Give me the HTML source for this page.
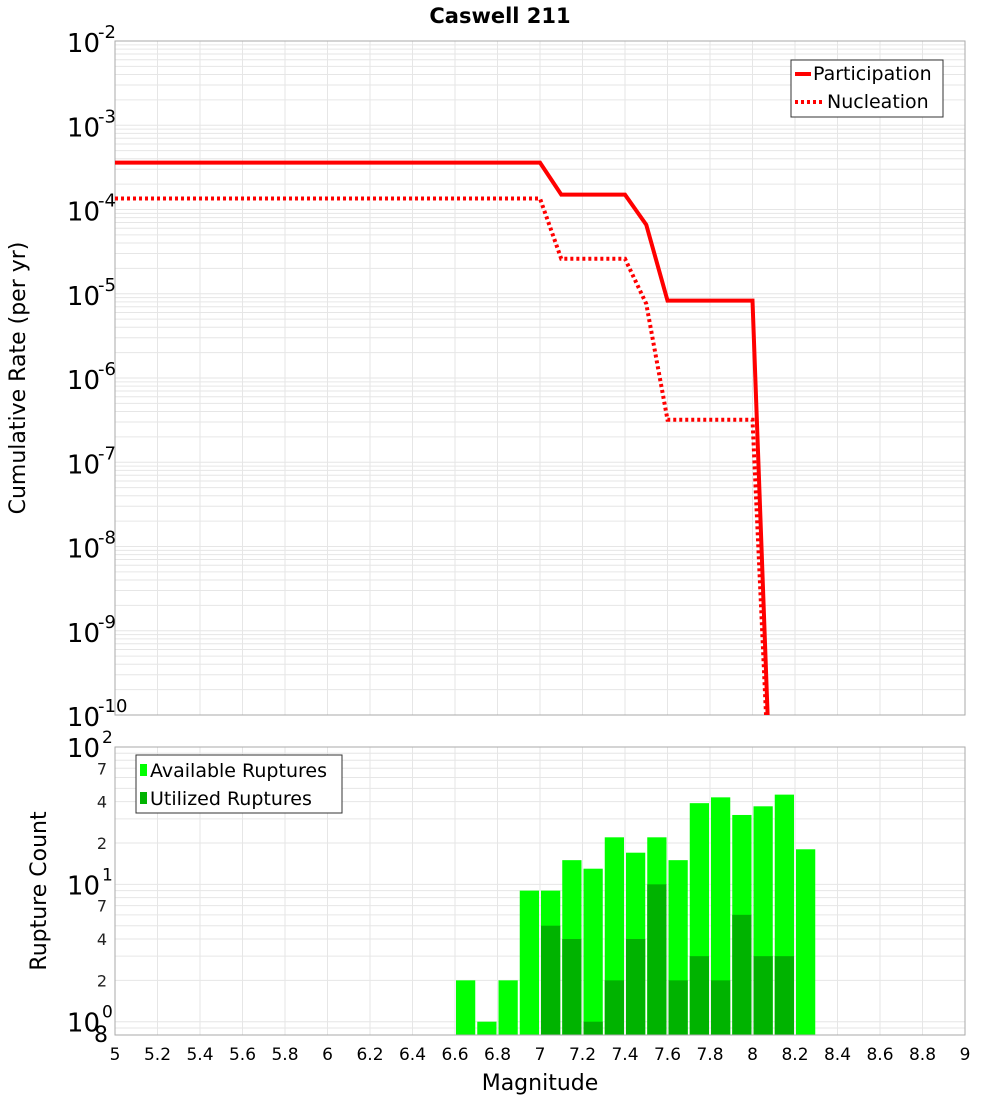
<!DOCTYPE html>
<html><head><meta charset="utf-8"><title>Caswell 211</title>
<style>
html,body{margin:0;padding:0;background:#fff;}
svg{display:block;font-family:"Liberation Sans","DejaVu Sans",sans-serif;}
</style></head>
<body>
<svg id="chart" width="1000" height="1100" xmlns="http://www.w3.org/2000/svg">
<text x="500" y="23" text-anchor="middle" font-size="21" font-weight="bold" font-family="DejaVu Sans, Liberation Sans, sans-serif">Caswell 211</text>
<text transform="translate(25,378) rotate(-90)" text-anchor="middle" font-size="22" font-family="DejaVu Sans, Liberation Sans, sans-serif">Cumulative Rate (per yr)</text>
<text transform="translate(46,891) rotate(-90)" text-anchor="middle" font-size="22" font-family="DejaVu Sans, Liberation Sans, sans-serif">Rupture Count</text>
<text x="540" y="1090" text-anchor="middle" font-size="22" font-family="DejaVu Sans, Liberation Sans, sans-serif">Magnitude</text>
<g id="topg"></g>
<g id="botg"></g>
</svg>
<script>
// Top chart data
const mags = [5.0, 7.0, 7.1, 7.4, 7.5, 7.6, 8.0, 8.1];
const participation = [3.6e-4, 3.6e-4, 1.5e-4, 1.5e-4, 6.6e-5, 8.3e-6, 8.3e-6, 1e-12];
const nucleation = [1.35e-4, 1.35e-4, 2.6e-5, 2.6e-5, 7.6e-6, 3.2e-7, 3.2e-7, 1e-12];
const topDecades = [-2, -3, -4, -5, -6, -7, -8, -9, -10];
// Bottom chart data
const binStarts = [6.6, 6.7, 6.8, 6.9, 7.0, 7.1, 7.2, 7.3, 7.4, 7.5, 7.6, 7.7, 7.8, 7.9, 8.0, 8.1, 8.2];
const available = [2, 1, 2, 9, 9, 15, 13, 22, 17, 22, 15, 39, 43, 32, 37, 45, 18];
const utilized = [0, 0, 0, 0, 5, 4, 1, 2, 4, 10, 2, 3, 2, 6, 3, 3, 0];
const xTicks = ["5","5.2","5.4","5.6","5.8","6","6.2","6.4","6.6","6.8","7","7.2","7.4","7.6","7.8","8","8.2","8.4","8.6","8.8","9"];

const NS = "http://www.w3.org/2000/svg";
function mk(tag, attrs, parent) {
  const e = document.createElementNS(NS, tag);
  for (const k in attrs) e.setAttribute(k, attrs[k]);
  parent.appendChild(e);
  return e;
}
const L = 115, R = 965;
const xs = m => L + (m - 5) / 4 * (R - L);
const T1 = 41, B1 = 715;
const y1 = v => T1 + (-2 - Math.log10(v)) / 8 * (B1 - T1);
const T2 = 747, B2 = 1035;
const yMin = Math.log10(0.8), yMax = 2;
const y2 = v => B2 - (Math.log10(v) - yMin) / (yMax - yMin) * (B2 - T2);

const topG = document.getElementById('topg');
const botG = document.getElementById('botg');
const FF = 'DejaVu Sans, Liberation Sans, sans-serif';

// ---- Top chart grid ----
const g1 = mk('g', {}, topG);


for (let d = -10; d < -2; d++) {
  for (let k = 1; k <= 9; k++) {
    const y = y1(k * Math.pow(10, d));
    mk('line', {x1: L, x2: R, y1: y, y2: y, stroke: '#e6e6e6', 'stroke-width': 1}, g1);
  }
}
xTicks.forEach(t => {
  const x = xs(parseFloat(t));
  mk('line', {x1: x, x2: x, y1: T1, y2: B1, stroke: '#e6e6e6', 'stroke-width': 1}, g1);
  mk('line', {x1: x, x2: x, y1: T2, y2: B2, stroke: '#e6e6e6', 'stroke-width': 1}, g1);
});
const r1 = mk('rect', {x: L, y: T1, width: R - L, height: B1 - T1, fill: 'none', stroke: '#aaa', 'stroke-width': 1}, topG);



topDecades.forEach(d => {
  const y = y1(Math.pow(10, d));
  const t = mk('text', {x: 100, y: y + 11, 'text-anchor': 'end', 'font-size': 26, 'font-family': FF}, topG);
  
  
  t.textContent = '10';
  const s = mk('text', {x: 98, y: y - 3, 'font-size': 18, 'font-family': FF}, topG);
  
  
  s.textContent = String(d);
});

const defs = mk('defs', {}, topG);
const cp = mk('clipPath', {id: 'clip1'}, defs);
mk('rect', {x: L, y: T1, width: R - L, height: B1 - T1}, cp);

function pts(arr) { return mags.map((m, i) => xs(m) + ',' + y1(arr[i])).join(' '); }
const lp = mk('polyline', {points: pts(participation), fill: 'none', stroke: '#ff0000', 'stroke-width': 4, 'clip-path': 'url(#clip1)'}, topG);


const ln = mk('polyline', {points: pts(nucleation), fill: 'none', stroke: '#ff0000', 'stroke-width': 4, 'stroke-dasharray': '3,3', 'clip-path': 'url(#clip1)'}, topG);



const lg = mk('g', {}, topG);


mk('rect', {x: 791, y: 60, width: 152, height: 57, fill: '#fff', stroke: '#333', 'stroke-width': 1}, lg);
mk('line', {x1: 795, x2: 811, y1: 74, y2: 74, stroke: '#ff0000', 'stroke-width': 4}, lg);
mk('line', {x1: 795, x2: 822, y1: 102, y2: 102, stroke: '#ff0000', 'stroke-width': 4, 'stroke-dasharray': '3,3'}, lg);
const lt1 = mk('text', {x: 813, y: 80, 'font-size': 19, 'font-family': FF}, lg);


lt1.textContent = 'Participation';
const lt2 = mk('text', {x: 827, y: 108, 'font-size': 19, 'font-family': FF}, lg);


lt2.textContent = 'Nucleation';

// ---- Bottom chart ----
const g2 = mk('g', {}, botG);


[0.8, 0.9, 1, 2, 3, 4, 5, 6, 7, 8, 9, 10, 20, 30, 40, 50, 60, 70, 80, 90, 100].forEach(v => {
  const y = y2(v);
  mk('line', {x1: L, x2: R, y1: y, y2: y, stroke: '#e6e6e6', 'stroke-width': 1}, g2);
});
const bw = xs(5.1) - xs(5.0);
binStarts.forEach((m, i) => {
  const x = xs(m) + 1;
  const ba = mk('rect', {x: x, y: y2(available[i]), width: bw - 2, height: B2 - y2(available[i]), fill: '#00ff00'}, botG);
  
  
  if (utilized[i] > 0) {
    const bu = mk('rect', {x: x, y: y2(utilized[i]), width: bw - 2, height: B2 - y2(utilized[i]), fill: '#00b300'}, botG);
    
    
  }
});
const r2 = mk('rect', {x: L, y: T2, width: R - L, height: B2 - T2, fill: 'none', stroke: '#aaa', 'stroke-width': 1}, botG);



[[100, '2'], [10, '1'], [1, '0']].forEach(([v, e]) => {
  const y = y2(v);
  const t = mk('text', {x: 100, y: y + 10, 'text-anchor': 'end', 'font-size': 26, 'font-family': FF}, botG);
  
  
  t.textContent = '10';
  const s = mk('text', {x: 102, y: y - 4, 'font-size': 17, 'font-family': FF}, botG);
  
  
  s.textContent = e;
});
[[70, '7'], [40, '4'], [20, '2'], [7, '7'], [4, '4'], [2, '2']].forEach(([v, lab]) => {
  const t = mk('text', {x: 107, y: y2(v) + 6, 'text-anchor': 'end', 'font-size': 16, fill: '#222', 'font-family': FF}, botG);
  
  
  t.textContent = lab;
});
const t8 = mk('text', {x: 108, y: 1042, 'text-anchor': 'end', 'font-size': 22, 'font-family': FF}, botG);


t8.textContent = '8';

xTicks.forEach(t => {
  const tx = mk('text', {x: xs(parseFloat(t)), y: 1060, 'text-anchor': 'middle', 'font-size': 17, 'font-family': FF}, botG);
  
  
  tx.textContent = t;
});

const lg2 = mk('g', {}, botG);


mk('rect', {x: 136, y: 755, width: 206, height: 58, fill: '#fff', stroke: '#333', 'stroke-width': 1}, lg2);
mk('rect', {x: 140, y: 764, width: 7, height: 12, fill: '#00ff00'}, lg2);
mk('rect', {x: 140, y: 792, width: 7, height: 12, fill: '#00b300'}, lg2);
const b1 = mk('text', {x: 150, y: 777, 'font-size': 19, 'font-family': FF}, lg2);


b1.textContent = 'Available Ruptures';
const b2 = mk('text', {x: 150, y: 805, 'font-size': 19, 'font-family': FF}, lg2);


b2.textContent = 'Utilized Ruptures';
</script>
</body></html>
